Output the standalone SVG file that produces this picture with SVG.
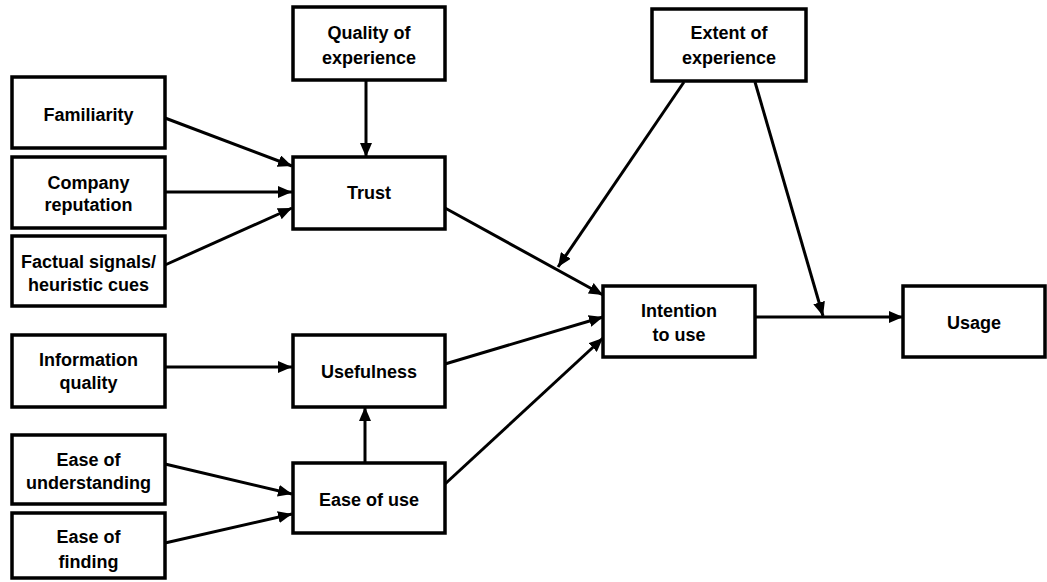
<svg xmlns="http://www.w3.org/2000/svg" width="1047" height="582" viewBox="0 0 1047 582">
  <style>
    .box { fill: #ffffff; stroke: #000000; stroke-width: 3.5; }
    .lbl { font-family: "Liberation Sans", Arial, sans-serif; font-weight: bold; font-size: 18px; fill: #000000; text-anchor: middle; }
    .edge { stroke: #000000; stroke-width: 3; fill: none; marker-end: url(#head); }
  </style>
  <defs>
    <marker id="head" markerUnits="userSpaceOnUse" viewBox="0 0 14 12" refX="14" refY="6" markerWidth="14" markerHeight="12" orient="auto">
      <path d="M0,0 L14,6 L0,12 Z" fill="#000000"/>
    </marker>
  </defs>
  <rect width="1047" height="582" fill="#ffffff"/>

  <!-- connectors -->
  <g id="connectors">
    <line class="edge" x1="165" y1="118" x2="292" y2="166"/>
    <line class="edge" x1="165" y1="192" x2="292" y2="192"/>
    <line class="edge" x1="165" y1="265" x2="292" y2="208"/>
    <line class="edge" x1="366" y1="80" x2="366" y2="157"/>
    <line class="edge" x1="165" y1="367" x2="292" y2="367"/>
    <line class="edge" x1="165" y1="464" x2="292" y2="494"/>
    <line class="edge" x1="165" y1="543" x2="292" y2="514"/>
    <line class="edge" x1="365" y1="463" x2="365" y2="407"/>
    <line class="edge" x1="445" y1="208" x2="603" y2="295"/>
    <line class="edge" x1="445" y1="364" x2="603" y2="317"/>
    <line class="edge" x1="445" y1="484" x2="603" y2="338"/>
    <line class="edge" x1="684" y1="82" x2="558" y2="267"/>
    <line class="edge" x1="755" y1="82" x2="823" y2="316"/>
    <line class="edge" x1="755" y1="317" x2="903" y2="317"/>
  </g>

  <g id="quality-of-experience">
    <rect class="box" x="293" y="7" width="152" height="73"/>
    <text class="lbl" x="369" y="39">Quality of</text>
    <text class="lbl" x="369" y="64">experience</text>
  </g>
  <g id="extent-of-experience">
    <rect class="box" x="652" y="9" width="154" height="72"/>
    <text class="lbl" x="729" y="39">Extent of</text>
    <text class="lbl" x="729" y="64">experience</text>
  </g>
  <g id="familiarity">
    <rect class="box" x="12" y="77" width="153" height="71"/>
    <text class="lbl" x="88.5" y="121">Familiarity</text>
  </g>
  <g id="company-reputation">
    <rect class="box" x="12" y="157" width="153" height="71"/>
    <text class="lbl" x="88.5" y="189">Company</text>
    <text class="lbl" x="88.5" y="211">reputation</text>
  </g>
  <g id="factual-signals">
    <rect class="box" x="12" y="236" width="153" height="70"/>
    <text class="lbl" x="88.5" y="268">Factual signals/</text>
    <text class="lbl" x="88.5" y="291">heuristic cues</text>
  </g>
  <g id="information-quality">
    <rect class="box" x="12" y="335" width="153" height="72"/>
    <text class="lbl" x="88.5" y="366">Information</text>
    <text class="lbl" x="88.5" y="389">quality</text>
  </g>
  <g id="ease-of-understanding">
    <rect class="box" x="12" y="435" width="153" height="69"/>
    <text class="lbl" x="88.5" y="466">Ease of</text>
    <text class="lbl" x="88.5" y="489">understanding</text>
  </g>
  <g id="ease-of-finding">
    <rect class="box" x="12" y="513" width="153" height="65"/>
    <text class="lbl" x="88.5" y="543">Ease of</text>
    <text class="lbl" x="88.5" y="568">finding</text>
  </g>
  <g id="trust">
    <rect class="box" x="293" y="157" width="152" height="72"/>
    <text class="lbl" x="369" y="199">Trust</text>
  </g>
  <g id="usefulness">
    <rect class="box" x="293" y="335" width="152" height="72"/>
    <text class="lbl" x="369" y="378">Usefulness</text>
  </g>
  <g id="ease-of-use">
    <rect class="box" x="293" y="463" width="152" height="70"/>
    <text class="lbl" x="369" y="506">Ease of use</text>
  </g>
  <g id="intention-to-use">
    <rect class="box" x="603" y="286" width="152" height="71"/>
    <text class="lbl" x="679" y="317">Intention</text>
    <text class="lbl" x="679" y="341">to use</text>
  </g>
  <g id="usage">
    <rect class="box" x="903" y="286" width="142" height="71"/>
    <text class="lbl" x="974" y="329">Usage</text>
  </g>
</svg>
